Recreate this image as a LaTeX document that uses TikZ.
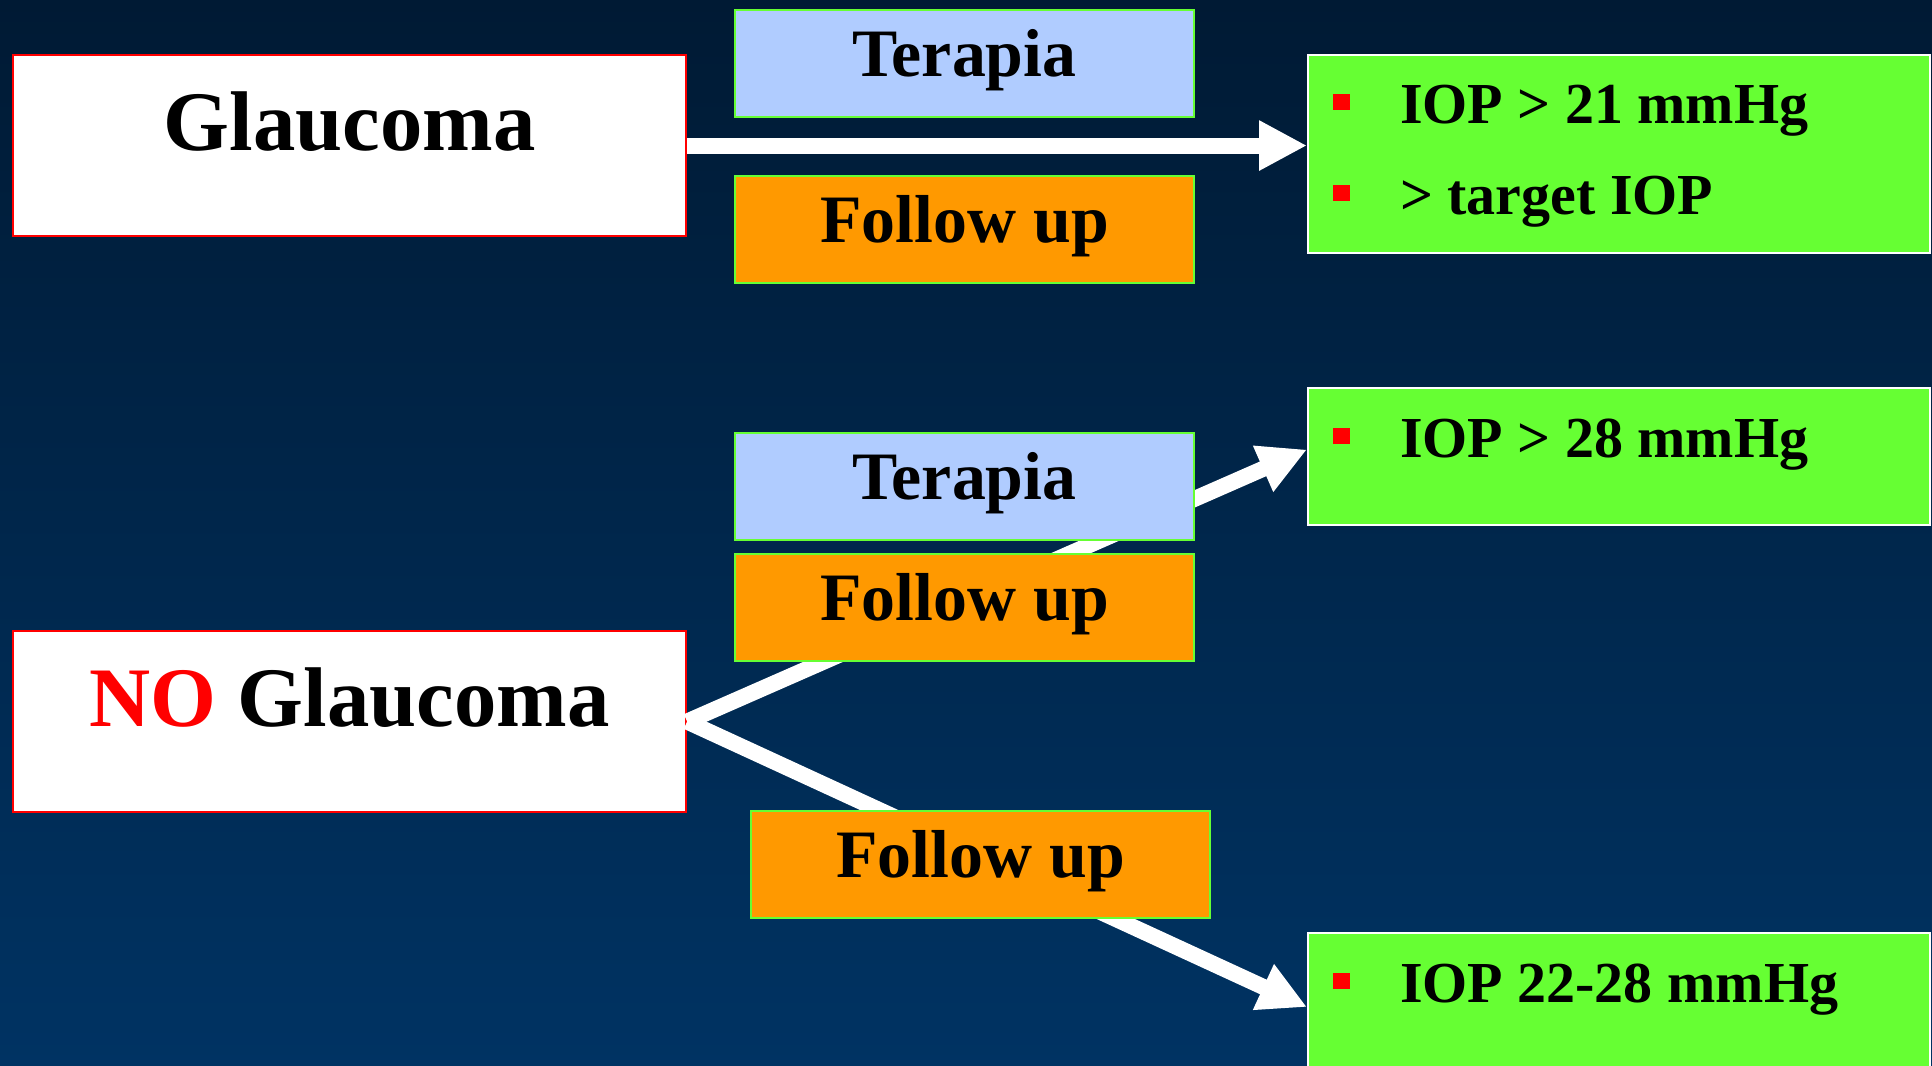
\documentclass[tikz,border=0pt]{standalone}
\usepackage{fontspec}
\setmainfont{Liberation Serif}
\usetikzlibrary{arrows.meta, positioning}
\definecolor{bgtop}{RGB}{0,26,52}
\definecolor{bgbot}{RGB}{0,51,99}
\definecolor{lblue}{RGB}{176,204,255}
\definecolor{orng}{RGB}{255,153,0}
\definecolor{lgreen}{RGB}{102,255,51}
\newcommand{\iop}[1]{\hspace*{2.5mm}\textcolor{red}{\rule[1.3mm]{1.7mm}{1.6mm}}\hspace{5mm}#1}

\begin{document}
\begin{tikzpicture}[
   bigbox/.style={draw=red, line width=0.6pt, fill=white, anchor=north west, inner sep=0pt,
      minimum width=6.73cm, text height=0.95cm, text depth=0.86cm, font=\fontsize{24.1}{29}\selectfont\bfseries},
   midbox/.style={draw=lgreen, line width=0.6pt, anchor=north west, inner sep=0pt,
      minimum width=4.59cm, text height=0.66cm, text depth=0.41cm, font=\fontsize{19.3}{23}\selectfont\bfseries},
   iopbox/.style={draw=white, line width=0.6pt, fill=lgreen, anchor=north west, inner sep=0pt,
      minimum width=6.22cm, font=\fontsize{16.5}{25.9}\selectfont\bfseries},
   arr/.style={white, line width=1.6mm, -{Triangle[length=4.8mm,width=4.7mm]}}]
   \useasboundingbox (0,0) rectangle (19.32,-10.66);
   \shade[top color=bgtop, bottom color=bgbot] (0,0) rectangle (19.32,-10.66);

   \node[bigbox] (glauc) at (0.12,-0.54) {Glaucoma};
   \node[bigbox] (noglauc) at (0.12,-6.30) {\textcolor{red}{NO} Glaucoma};

   \node[iopbox, text height=0.68cm, text depth=1.30cm] (green1) at (13.07,-0.54)
      {\parbox[t]{6.22cm}{\iop{IOP > 21 mmHg}\\\iop{> target IOP}}};
   \node[iopbox, text height=0.69cm, text depth=0.68cm] (green2) at (13.07,-3.87)
      {\parbox[t]{6.22cm}{\iop{IOP > 28 mmHg}}};
   \node[iopbox, text height=0.69cm, text depth=0.79cm] (green3) at (13.07,-9.32)
      {\parbox[t]{6.22cm}{\iop{IOP 22-28 mmHg}}};

   \path[arr]
    (glauc.east)   edge (glauc.east -| green1.west)
    (noglauc.east) edge ([yshift=0.07cm]green2.west)
    (noglauc.east) edge (green3.west);

   \node[midbox, fill=lblue] (ter1) at (7.34,-0.09) {Terapia};
   \node[midbox, fill=orng] (fol1) at (7.34,-1.75) {Follow up};
   \node[midbox, fill=lblue] (ter2) at (7.34,-4.32) {Terapia};
   \node[midbox, fill=orng] (fol2) at (7.34,-5.53) {Follow up};
   \node[midbox, fill=orng] (fol3) at (7.50,-8.10) {Follow up};
\end{tikzpicture}
\end{document}
